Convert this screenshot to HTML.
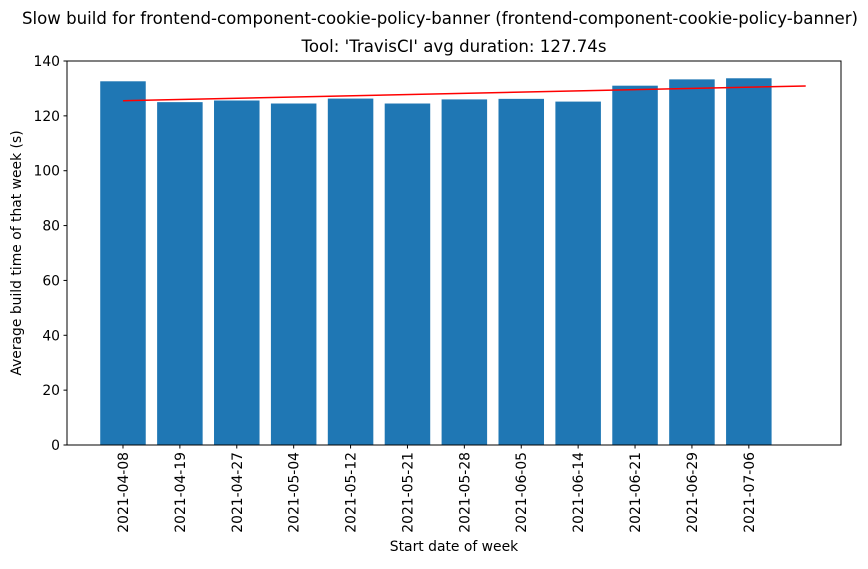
<!DOCTYPE html>
<html><head><meta charset="utf-8"><style>
body{margin:0;background:#fff;font-family:"Liberation Sans","DejaVu Sans",sans-serif;}
svg text{font-family:"DejaVu Sans","Liberation Sans",sans-serif;}
</style></head><body>
<svg id="c" width="868" height="564"></svg>
<script>
const categories=["2021-04-08","2021-04-19","2021-04-27","2021-05-04","2021-05-12","2021-05-21","2021-05-28","2021-06-05","2021-06-14","2021-06-21","2021-06-29","2021-07-06"];
const values=[132.6,125.0,125.6,124.5,126.3,124.5,126.0,126.2,125.2,131.0,133.3,133.7];
const trendStart=125.5, trendEnd=130.9;
const yTicks=[0,20,40,60,80,100,120,140];
const NS="http://www.w3.org/2000/svg";
const svg=document.getElementById('c');
const L=67,R=841,T=61,B=445;
const xmin=-0.984,xmax=12.62;
const x=v=>L+(v-xmin)/(xmax-xmin)*(R-L);
const y=v=>B-v/140*(B-T);
function mk(t,a,p){const e=document.createElementNS(NS,t);for(const k in a)e.setAttribute(k,a[k]);(p||svg).appendChild(e);return e;}
values.forEach((v,i)=>{
 const r=mk('rect',{x:x(i-0.4),y:y(v),width:x(0.4)-x(-0.4),height:B-y(v),fill:'#1f77b4'});
 
 
});
const ln=mk('line',{x1:x(0),y1:y(trendStart),x2:x(values.length),y2:y(trendEnd),stroke:'#ff0000','stroke-width':1.5});


const fr=mk('rect',{x:L,y:T,width:R-L,height:B-T,fill:'none',stroke:'#000','stroke-width':1});


yTicks.forEach(t=>{
 mk('line',{x1:L-3.5,x2:L,y1:y(t),y2:y(t),stroke:'#000'});
 const tx=mk('text',{x:L-7,y:y(t)+5,'text-anchor':'end','font-size':13.9});
 tx.textContent=t;
 
 
});
categories.forEach((c,i)=>{
 mk('line',{x1:x(i),x2:x(i),y1:B,y2:B+3.5,stroke:'#000'});
 const tx=mk('text',{x:0,y:0,'text-anchor':'end','font-size':13.9,transform:`translate(${x(i)+5},${B+7}) rotate(-90)`});
 tx.textContent=c;
 
 
});
const t1=mk('text',{x:440,y:24,'text-anchor':'middle','font-size':16.6});
t1.textContent="Slow build for frontend-component-cookie-policy-banner (frontend-component-cookie-policy-banner)";


const t2=mk('text',{x:454,y:52,'text-anchor':'middle','font-size':16.6});
t2.textContent="Tool: 'TravisCI' avg duration: 127.74s";


const xl=mk('text',{x:454,y:551,'text-anchor':'middle','font-size':13.9});
xl.textContent="Start date of week";


const yl=mk('text',{x:0,y:0,'text-anchor':'middle','font-size':13.9,transform:'translate(21,253) rotate(-90)'});
yl.textContent="Average build time of that week (s)";


</script>
</body></html>
